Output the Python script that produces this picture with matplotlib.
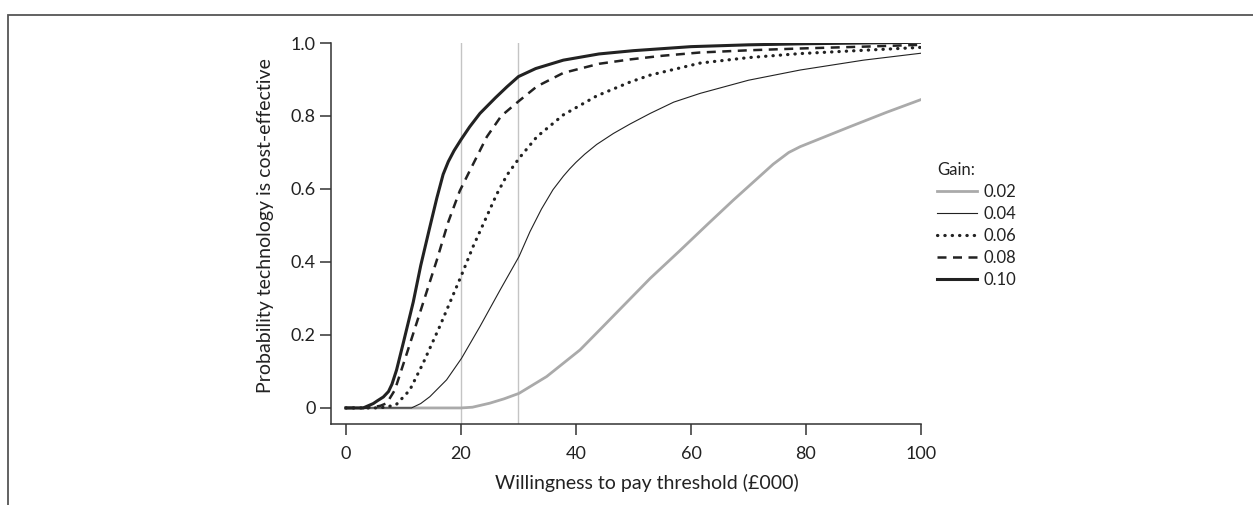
import matplotlib
matplotlib.use("Agg")
import matplotlib.pyplot as plt
from matplotlib.patches import Rectangle

plt.rcParams["font.family"] = ["Lato", "DejaVu Sans"]

# Acceptability curves: willingness to pay (GBP 000) vs probability
x_002 = [0, 20, 22, 25, 27.5, 30.1, 34.9, 40.7, 44.2, 46.5, 52.9, 58, 63, 67.4, 74.3, 77, 79, 87.7, 94, 100]
p_002 = [0, 0, 0.002, 0.013, 0.025, 0.040, 0.086, 0.159, 0.215, 0.252, 0.355, 0.43, 0.505, 0.57, 0.668, 0.70, 0.716, 0.771, 0.81, 0.845]

x_004 = [0, 10, 11.4, 13, 14.6, 17.5, 20.1, 23.3, 26.8, 30.1, 32, 34, 36, 37.8, 38.9, 40, 41.5, 43.6, 46.5, 49.4, 52.9, 57, 61.6, 70, 79, 90, 100]
p_004 = [0, 0, 0, 0.012, 0.031, 0.077, 0.136, 0.223, 0.323, 0.415, 0.483, 0.545, 0.598, 0.635, 0.655, 0.673, 0.695, 0.722, 0.752, 0.778, 0.807, 0.838, 0.862, 0.898, 0.926, 0.953, 0.972]

x_006 = [0, 5, 7, 8.8, 11.1, 13.4, 16.3, 20.1, 22.1, 24.2, 26.2, 28, 30.1, 33.2, 37.8, 43.6, 49.4, 52.9, 61.6, 70, 79, 90, 100]
p_006 = [0, 0, 0.002, 0.01, 0.049, 0.122, 0.223, 0.364, 0.442, 0.515, 0.585, 0.638, 0.684, 0.743, 0.803, 0.855, 0.893, 0.912, 0.945, 0.96, 0.971, 0.98, 0.988]

x_008 = [0, 3, 5, 6, 7.1, 8.5, 10.6, 13.4, 15.8, 17.8, 19.8, 21.6, 24.5, 27, 30, 33.2, 37.8, 44, 49.4, 55, 61.6, 70, 79, 90, 100]
p_008 = [0, 0, 0.003, 0.006, 0.013, 0.049, 0.15, 0.287, 0.405, 0.51, 0.595, 0.652, 0.743, 0.80, 0.84, 0.881, 0.918, 0.943, 0.955, 0.965, 0.974, 0.98, 0.985, 0.99, 0.995]

x_010 = [0, 3, 4.75, 5.5, 6.5, 7.4, 8, 8.8, 10, 11.7, 13, 14.5, 15.8, 16.9, 17.8, 18.8, 20, 21.5, 23.3, 26, 28, 30, 33, 37.8, 44, 50, 60, 70, 80, 90, 100]
p_010 = [0, 0, 0.012, 0.02, 0.03, 0.045, 0.065, 0.104, 0.18, 0.29, 0.39, 0.49, 0.575, 0.64, 0.675, 0.705, 0.735, 0.77, 0.807, 0.85, 0.88, 0.908, 0.93, 0.953, 0.97, 0.979, 0.99, 0.995, 0.998, 1.0, 1.002]

gains = ["0.02", "0.04", "0.06", "0.08", "0.10"]
thresholds = [20, 30]
xticks = [0, 20, 40, 60, 80, 100]
yticks = [0, 0.2, 0.4, 0.6, 0.8, 1.0]
yticklabels = ["0", "0.2", "0.4", "0.6", "0.8", "1.0"]

ink = "#222222"

fig = plt.figure(figsize=(12.53, 5.05), dpi=100)
ax = fig.add_axes([331 / 1253, 1 - 424 / 505, 590 / 1253, 381 / 505])

# outer frame (only top and left edges fall inside the canvas)
fig.add_artist(Rectangle((8 / 1253, -0.2), 1.2, 1.2 - 15 / 505,
                         transform=fig.transFigure, fill=False,
                         edgecolor="#555555", linewidth=1.3, clip_on=False))

for t in thresholds:
    ax.axvline(t, color="#c4c4c4", linewidth=1.0, zorder=1)

ax.plot(x_002, p_002, color="#aaaaaa", linewidth=2.0, label=gains[0], zorder=2)
ax.plot(x_004, p_004, color=ink, linewidth=0.8, label=gains[1], zorder=3)
ax.plot(x_006, p_006, color=ink, linewidth=2.3, linestyle=(0, (0.1, 2.2)),
        dash_capstyle="round", label=gains[2], zorder=3)
ax.plot(x_008, p_008, color=ink, linewidth=1.8, linestyle=(0, (3.6, 2.6)),
        label=gains[3], zorder=3)
ax.plot(x_010, p_010, color=ink, linewidth=2.2, label=gains[4], zorder=4)

ax.set_xlim(-2.6, 100)
ax.set_ylim(-0.044, 1.0)
ax.set_xticks(xticks)
ax.set_yticks(yticks)
ax.set_yticklabels(yticklabels)
ax.tick_params(direction="out", length=8, width=1.1, color="#333333",
               labelsize=13, labelcolor=ink)
ax.tick_params(axis="x", pad=8)
ax.tick_params(axis="y", pad=3)
for s in ("top", "right"):
    ax.spines[s].set_visible(False)
for s in ("left", "bottom"):
    ax.spines[s].set_color("#333333")
    ax.spines[s].set_linewidth(1.1)

ax.set_xlabel("Willingness to pay threshold (£000)", fontsize=14, color=ink)
ax.set_ylabel("Probability technology is cost-effective", fontsize=14, color=ink)
ax.xaxis.set_label_coords((647 - 331) / 590, -(483 - 424) / 381)
ax.yaxis.set_label_coords(-(331 - 265) / 590, (424 - 226) / 381)
ax.xaxis.label.set_va("center")
ax.yaxis.label.set_va("center")

leg = ax.legend(title="Gain:", loc="upper left", frameon=False,
                bbox_to_anchor=(937 / 1253, 1 - 162 / 505),
                bbox_transform=fig.transFigure, fontsize=12,
                title_fontsize=12, handlelength=2.4, handletextpad=0.42,
                labelspacing=0.36, borderpad=0, borderaxespad=0,
                alignment="left")
for txt in leg.get_texts():
    txt.set_color(ink)
leg.get_title().set_color(ink)

fig.savefig("out.png", dpi=100)
